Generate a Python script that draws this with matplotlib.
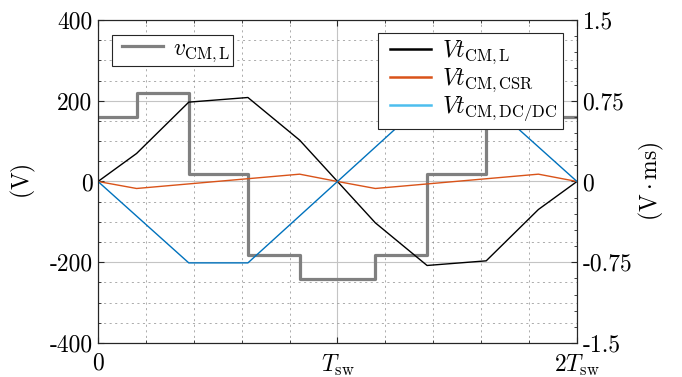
import matplotlib
matplotlib.use('Agg')
import matplotlib.pyplot as plt
from matplotlib.lines import Line2D
from matplotlib.legend_handler import HandlerLine2D
from matplotlib.ticker import MultipleLocator

plt.rcParams['font.family'] = ['cmr10', 'DejaVu Serif']
plt.rcParams['mathtext.fontset'] = 'cm'
plt.rcParams['axes.unicode_minus'] = False

# time in units of Tsw
t_v = [0, 0.161, 0.161, 0.379, 0.379, 0.626, 0.626, 0.842, 0.842, 1.158, 1.158,
       1.374, 1.374, 1.621, 1.621, 1.839, 1.839, 2.0]
v_cm = [160, 160, 219, 219, 18, 18, -182, -182, -242, -242, -182,
        -182, 18, 18, 219, 219, 160, 160]

t_l = [0, 0.161, 0.379, 0.626, 0.842, 1.0, 1.158, 1.374, 1.621, 1.839, 2.0]
vt_l = [0, 0.26, 0.737, 0.78, 0.384, 0, -0.384, -0.78, -0.737, -0.26, 0]

t_csr = [0, 0.161, 0.842, 1.0, 1.158, 1.839, 2.0]
vt_csr = [0, -0.065, 0.068, 0, -0.065, 0.068, 0]

t_dc = [0, 0.379, 0.626, 1.0, 1.374, 1.621, 2.0]
vt_dc = [0, -0.756, -0.756, 0, 0.756, 0.756, 0]

fs = 17
fig = plt.figure(figsize=(6.82, 3.77), dpi=100)
ax = fig.add_axes([0.1437, 0.0902, 0.7023, 0.8568])
ax2 = ax.twinx()

line_v, = ax.plot(t_v, v_cm, color='#808080', lw=2.3)
ax2.plot(t_l, vt_l, color='black', lw=1.0)
ax2.plot(t_csr, vt_csr, color='#D95319', lw=1.0)
ax2.plot(t_dc, vt_dc, color='#0072BD', lw=1.0)

ax.set_xlim(0, 2)
ax.set_ylim(-400, 400)
ax2.set_ylim(-1.5, 1.5)

ax.set_xticks([0, 1, 2])
ax.set_xticklabels(['0', r'$T_{\mathrm{sw}}$', r'$2T_{\mathrm{sw}}$'], fontsize=fs)
ax.xaxis.set_minor_locator(MultipleLocator(0.2))
ax.set_yticks([-400, -200, 0, 200, 400])
ax.set_yticklabels(['-400', '-200', '0', '200', '400'], fontsize=fs)
ax.yaxis.set_minor_locator(MultipleLocator(50))
ax2.set_yticks([-1.5, -0.75, 0, 0.75, 1.5])
ax2.set_yticklabels(['-1.5', '-0.75', '0', '0.75', '1.5'], fontsize=fs)
ax2.yaxis.set_minor_locator(MultipleLocator(0.15))

ax.grid(True, which='major', color='#c4c4c4', lw=0.8, ls='-')
ax.grid(True, which='minor', color='#8c8c8c', lw=0.5, ls=(0, (3, 5)))
ax.set_axisbelow(True)

ax.tick_params(which='both', direction='in', top=True, colors='#262626', pad=4)
ax.tick_params(axis='x', which='both', pad=7)
ax.tick_params(which='major', length=4)
ax.tick_params(which='minor', length=2.5)
ax2.tick_params(which='both', direction='in', colors='#262626', pad=4)
ax2.tick_params(which='major', length=4)
ax2.tick_params(which='minor', length=2.5)
for a in (ax, ax2):
    for s in a.spines.values():
        s.set_color('#262626')
        s.set_linewidth(0.8)
    for lab in a.get_xticklabels() + a.get_yticklabels():
        lab.set_color('black')

ax.set_ylabel(r'$(\mathrm{V})$', fontsize=fs, labelpad=8)
ax2.set_ylabel(r'$(\mathrm{V}\cdot\mathrm{ms})$', fontsize=fs, labelpad=3)

leg1 = ax.legend([line_v], [r'$v_{\mathrm{CM,L}}$'], loc='upper left',
                 bbox_to_anchor=(0.029, 0.955), fontsize=fs,
                 frameon=True, fancybox=False, edgecolor='#262626',
                 handlelength=2.05, borderpad=0.12, handletextpad=0.4,
                 borderaxespad=0, handler_map={Line2D: HandlerLine2D(xpad=0.3)})
leg1.get_frame().set_linewidth(0.8)
leg1.get_frame().set_alpha(1)

handles = [Line2D([], [], color='black', lw=1.8),
           Line2D([], [], color='#D95319', lw=1.8),
           Line2D([], [], color='#4DBEEE', lw=1.8)]
labels = [r'$Vt_{\mathrm{CM,L}}$', r'$Vt_{\mathrm{CM,CSR}}$', r'$Vt_{\mathrm{CM,DC/DC}}$']
leg2 = ax2.legend(handles, labels, loc='upper right', bbox_to_anchor=(0.971, 0.96),
                  fontsize=fs, frameon=True, fancybox=False, edgecolor='#262626',
                  handlelength=2.0, borderpad=0.25, handletextpad=0.45,
                  labelspacing=0.0, borderaxespad=0,
                  handler_map={Line2D: HandlerLine2D(xpad=0.25)})
leg2.get_frame().set_linewidth(0.8)
leg2.get_frame().set_alpha(1)

fig.savefig('out.png', dpi=100)
